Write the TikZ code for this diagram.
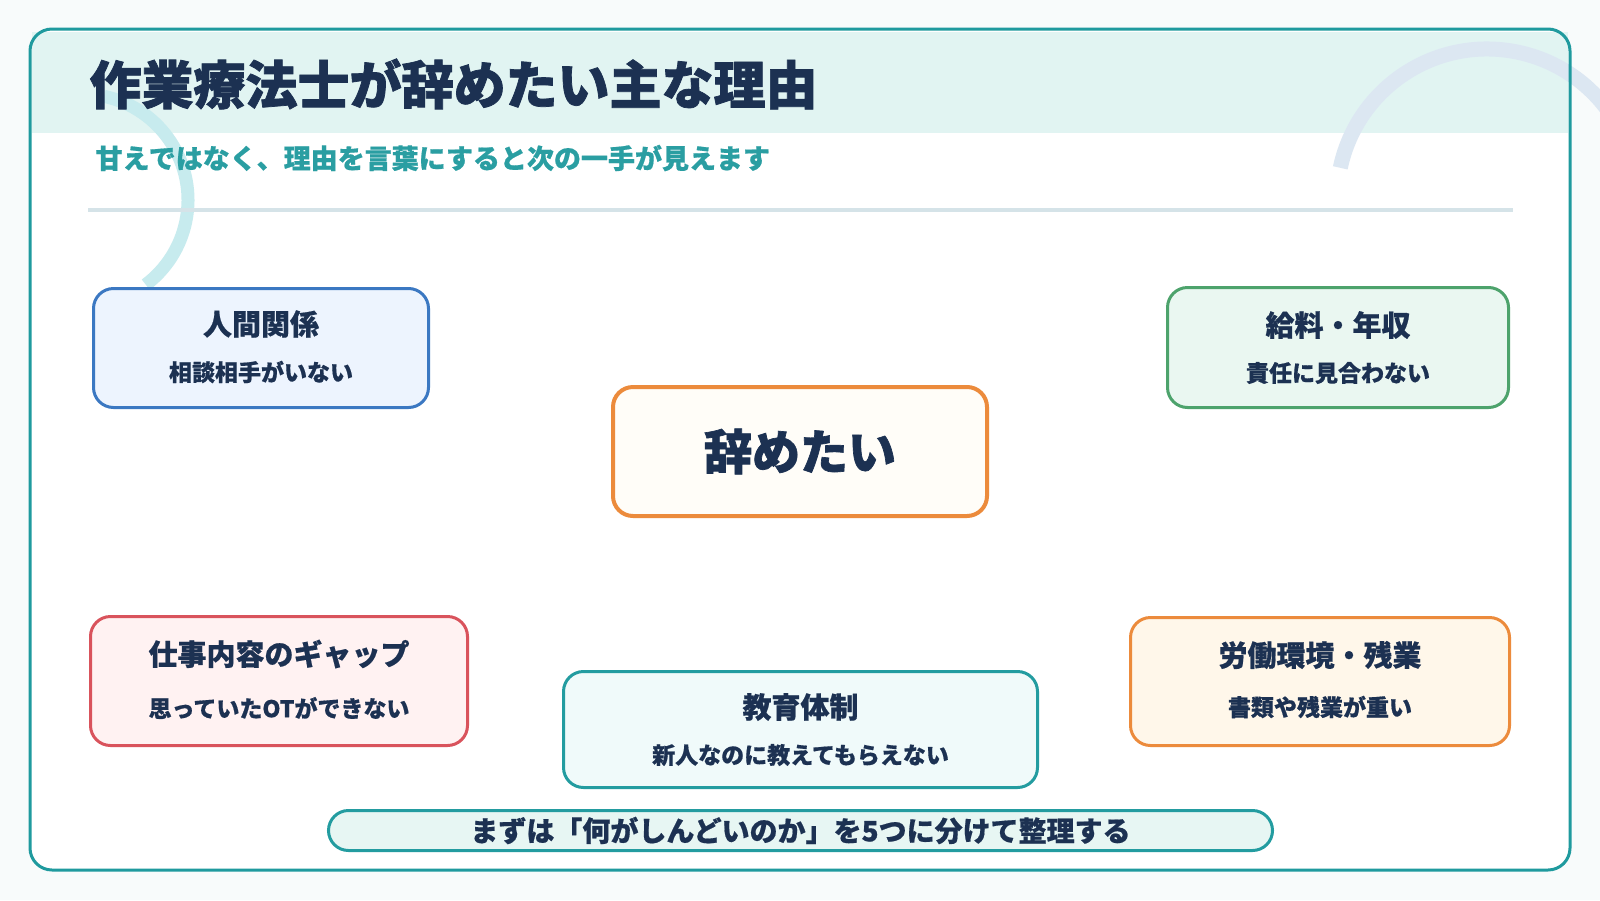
\documentclass[tikz,border=0pt]{standalone}
\usepackage{fontspec}
\newfontfamily\cjk{Noto Sans CJK JP}[BoldFeatures={FakeBold=0.6}]
\newfontfamily\cjkheavy{Noto Sans CJK JP}[BoldFeatures={FakeBold=1.4}]
\definecolor{ink}{HTML}{1C3152}
\definecolor{pagebg}{HTML}{F8FBFB}
\definecolor{headbg}{HTML}{E1F4F2}
\definecolor{framecol}{HTML}{1F9A9E}
\definecolor{sepcol}{HTML}{D5E3E8}
\definecolor{subcol}{HTML}{2A9EA2}
\definecolor{arcA}{HTML}{C7EBEE}
\definecolor{arcB}{HTML}{DCE7F2}
\definecolor{blueln}{HTML}{3B78C2}
\definecolor{bluefl}{HTML}{EDF4FE}
\definecolor{greenln}{HTML}{4DA36C}
\definecolor{greenfl}{HTML}{EAF7F1}
\definecolor{redln}{HTML}{D9535C}
\definecolor{redfl}{HTML}{FFF2F2}
\definecolor{tealln}{HTML}{239CA0}
\definecolor{tealfl}{HTML}{F0FAFA}
\definecolor{orgln}{HTML}{EC8B3C}
\definecolor{orgfl}{HTML}{FFF7EA}
\definecolor{centfl}{HTML}{FFFDF8}
\definecolor{bannerfl}{HTML}{E7F6F3}

\begin{document}
\begin{tikzpicture}[x=1pt,y=-1pt,
  reason/.style={draw,line width=3pt,rounded corners=20pt,inner sep=0pt},
  head/.style={text=ink,font=\cjk\bfseries\fontsize{29}{33}\selectfont},
  note/.style={text=ink,font=\cjk\bfseries\fontsize{23}{27}\selectfont}]
\clip (0,0) rectangle (1600,900);
\fill[pagebg] (0,0) rectangle (1600,900);
\fill[white,rounded corners=22pt] (30,29) rectangle (1570,870);
\fill[headbg] (32,32) rectangle (1568,133);
\draw[arcA,line width=13pt] (82,200) ++(-78:106) arc[start angle=-78,end angle=53,radius=106];
\draw[arcB,line width=15pt] (1487,199) ++(-168:150) arc[start angle=-168,end angle=10,radius=150];
\draw[framecol,line width=3pt,rounded corners=22pt] (30,29) rectangle (1570,870);
\draw[sepcol,line width=4pt] (88,210) -- (1513,210);

\node[anchor=west,text=ink,font=\cjkheavy\bfseries\fontsize{52}{60}\selectfont] (title) at (86,84) {作業療法士が辞めたい主な理由};
\node[anchor=west,text=subcol,font=\cjk\bfseries\fontsize{27}{31}\selectfont] (subtitle) at (92,158) {甘えではなく、理由を言葉にすると次の一手が見えます};

\node[reason,draw=blueln,fill=bluefl,minimum width=335pt,minimum height=119pt] (ningen) at (261,348) {};
\node[head] (ningenT) at (261,324) {人間関係};
\node[note] (ningenS) at (261,372) {相談相手がいない};

\node[reason,draw=greenln,fill=greenfl,minimum width=341pt,minimum height=120pt] (kyuryo) at (1338,347.5) {};
\node[head] (kyuryoT) at (1338,325) {給料・年収};
\node[note] (kyuryoS) at (1338,373) {責任に見合わない};

\node[reason,line width=4pt,draw=orgln,fill=centfl,minimum width=374pt,minimum height=129pt,
  text=ink,font=\cjkheavy\bfseries\fontsize{48}{56}\selectfont] (yametai) at (800,451.5) {辞めたい};

\node[reason,draw=redln,fill=redfl,minimum width=377pt,minimum height=129pt] (gap) at (279,681) {};
\node[head] (gapT) at (279,654) {仕事内容のギャップ};
\node[note] (gapS) at (279,708) {思っていたOTができない};

\node[reason,draw=tealln,fill=tealfl,minimum width=474pt,minimum height=116pt] (kyoiku) at (800.5,729.5) {};
\node[head] (kyoikuT) at (800.5,707) {教育体制};
\node[note] (kyoikuS) at (800.5,755) {新人なのに教えてもらえない};

\node[reason,draw=orgln,fill=orgfl,minimum width=379pt,minimum height=128pt] (kankyo) at (1320,681.5) {};
\node[head] (kankyoT) at (1320,655) {労働環境・残業};
\node[note] (kankyoS) at (1320,707) {書類や残業が重い};

\node[reason,draw=tealln,fill=bannerfl,rounded corners=20pt,minimum width=944pt,minimum height=40pt,
  text=ink,font=\cjk\bfseries\fontsize{28}{31}\selectfont] (banner) at (800.5,830.5) {まずは「何がしんどいのか」を5つに分けて整理する};
\end{tikzpicture}
\end{document}
